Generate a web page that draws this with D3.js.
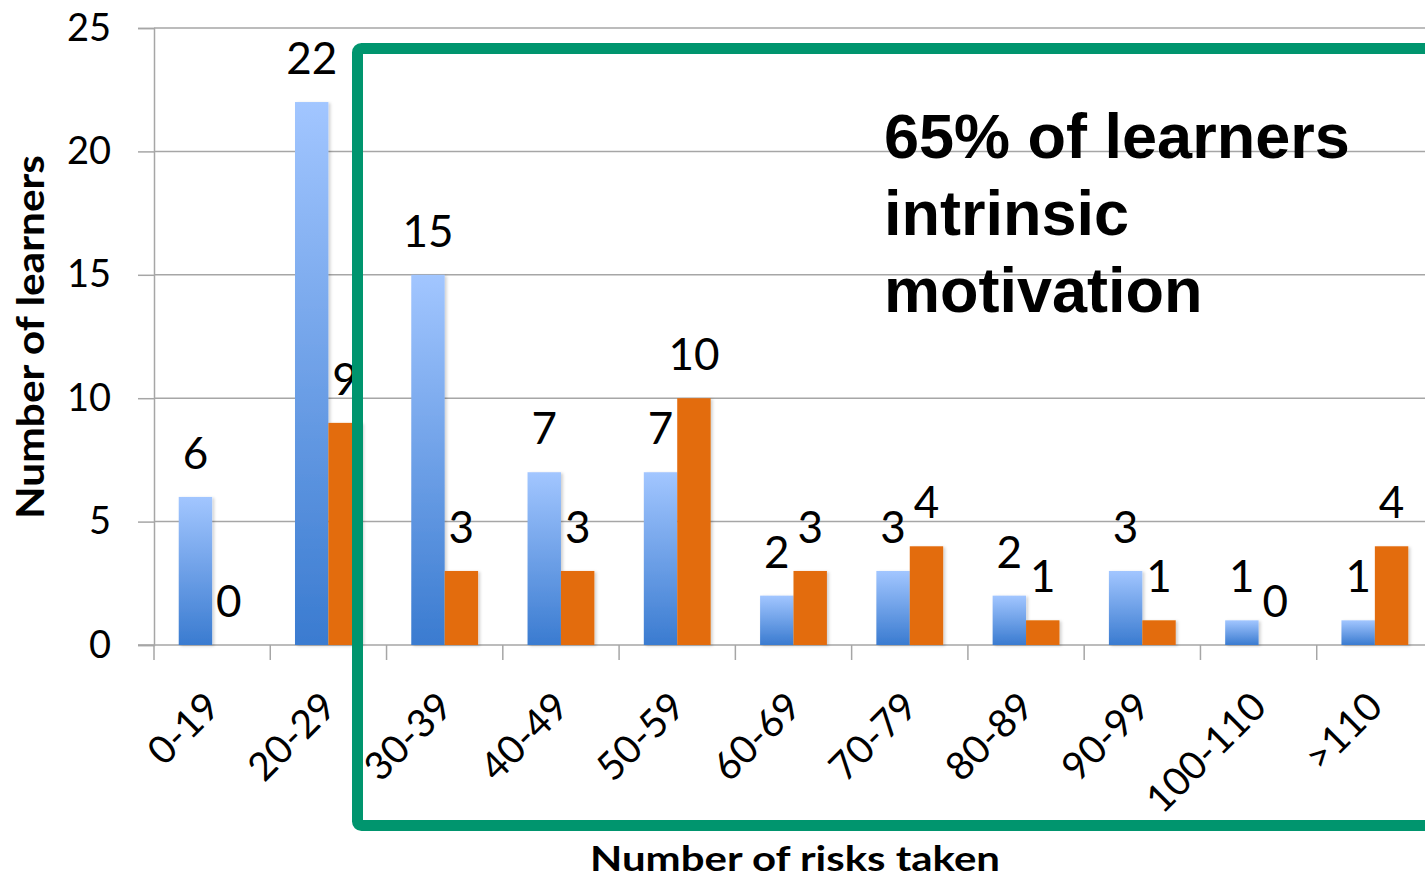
<!DOCTYPE html>
<html>
<head>
<meta charset="utf-8">
<script src="https://cdn.jsdelivr.net/npm/d3@7"></script>
<style>
  html, body { margin: 0; padding: 0; background: #fff; }
  svg { display: block; }
</style>
</head>
<body>
<svg id="chart" width="1425" height="878"></svg>
<script>
// Risk-taking distribution: learners per band of risks taken, two groups
const categories = ["0-19", "20-29", "30-39", "40-49", "50-59", "60-69", "70-79", "80-89", "90-99", "100-110", ">110"];
const seriesNames = ["groupA", "groupB"];
const groupA = [6, 22, 15, 7, 7, 2, 3, 2, 3, 1, 1];
const groupB = [0, 9, 3, 3, 10, 3, 4, 1, 1, 0, 4];
const yTicks = [0, 5, 10, 15, 20, 25];
const calloutLines = ["65% of learners", "intrinsic", "motivation"];
const xTitle = "Number of risks taken";
const yTitle = "Number of learners";

const rows = categories.map((c, i) => ({ cat: c, groupA: groupA[i], groupB: groupB[i] }));

const svg = d3.select("#chart");
const W = 1425, H = 878;
const plot = { left: 154, right: 1433, top: 28, bottom: 645 };

const y = d3.scaleLinear().domain([0, 25]).range([plot.bottom, plot.top]);
const x0 = d3.scaleBand().domain(categories).range([plot.left, plot.right]).padding(0);
const x1 = d3.scaleBand().domain(seriesNames).range([0, x0.bandwidth()])
  .paddingInner(0).paddingOuter(0.74);

const tickFont = "Lato, 'Open Sans', sans-serif";

// gradient for the first series, shadow for all bars
const defs = svg.append("defs");
const grad = defs.append("linearGradient").attr("id", "blueGrad")
  .attr("x1", 0).attr("y1", 0).attr("x2", 0).attr("y2", 1);
grad.append("stop").attr("offset", "0%").attr("stop-color", "#a2c6ff");
grad.append("stop").attr("offset", "100%").attr("stop-color", "#3a7bd0");
const sh = defs.append("filter").attr("id", "barShadow")
  .attr("x", "-30%").attr("y", "-10%").attr("width", "160%").attr("height", "120%");
sh.append("feDropShadow").attr("dx", 2).attr("dy", 1).attr("stdDeviation", 1.5)
  .attr("flood-color", "#000").attr("flood-opacity", 0.18);

// gridlines
svg.append("g").selectAll("line").data(yTicks.filter(t => t > 0)).join("line")
  .attr("x1", plot.left).attr("x2", W)
  .attr("y1", d => y(d)).attr("y2", d => y(d))
  .attr("stroke", "#a6a6a6").attr("stroke-width", 1.5);

// y axis
const yAxis = svg.append("g").attr("transform", `translate(${plot.left},0)`)
  .call(d3.axisLeft(y).tickValues(yTicks).tickSize(16).tickPadding(27));
yAxis.select(".domain").attr("stroke", "#a6a6a6").attr("stroke-width", 1.5);
yAxis.selectAll(".tick line").attr("stroke", "#a6a6a6").attr("stroke-width", 1.5);
yAxis.selectAll(".tick text").attr("font-family", tickFont).attr("font-size", 38)
  .attr("fill", "#000");

// x axis with tick marks at band edges
const xAxisG = svg.append("g").attr("transform", `translate(0,${plot.bottom})`);
xAxisG.append("line").attr("x1", plot.left - 16).attr("x2", W)
  .attr("stroke", "#a6a6a6").attr("stroke-width", 1.5);
xAxisG.selectAll("line.edge").data(categories).join("line").attr("class", "edge")
  .attr("x1", d => x0(d)).attr("x2", d => x0(d)).attr("y1", 0).attr("y2", 15)
  .attr("stroke", "#a6a6a6").attr("stroke-width", 1.5);
xAxisG.selectAll("text").data(categories).join("text")
  .attr("transform", d => `translate(${x0(d) + x0.bandwidth() / 2 + 10},64) rotate(-45)`)
  .attr("text-anchor", "end")
  .attr("font-family", tickFont).attr("font-size", 39).attr("fill", "#000")
  .text(d => d);

// bars
const groups = svg.append("g").selectAll("g").data(rows).join("g")
  .attr("transform", d => `translate(${x0(d.cat)},0)`);
groups.selectAll("rect").data(d => seriesNames.map(k => ({ key: k, value: d[k] })).filter(e => e.value > 0))
  .join("rect")
  .attr("x", d => x1(d.key)).attr("width", x1.bandwidth())
  .attr("y", d => y(d.value)).attr("height", d => y(0) - y(d.value))
  .attr("fill", d => d.key === "groupA" ? "url(#blueGrad)" : "#e36c0a")
  .attr("filter", "url(#barShadow)");

// value labels
groups.selectAll("text").data(d => seriesNames.map(k => ({ key: k, value: d[k] })))
  .join("text")
  .attr("x", d => x1(d.key) + x1.bandwidth() / 2)
  .attr("y", d => y(d.value) - 28)
  .attr("text-anchor", "middle")
  .attr("font-family", tickFont).attr("font-size", 44).attr("fill", "#000")
  .text(d => d.value);

// axis titles
svg.append("text").attr("x", 795).attr("y", 871).attr("text-anchor", "middle")
  .attr("font-family", tickFont).attr("font-weight", 700).attr("font-size", 35)
  .attr("textLength", 410).attr("lengthAdjust", "spacingAndGlyphs")
  .attr("fill", "#000").text(xTitle);
svg.append("text").attr("transform", "translate(44,337) rotate(-90)")
  .attr("text-anchor", "middle")
  .attr("font-family", tickFont).attr("font-weight", 700).attr("font-size", 38)
  .attr("textLength", 364).attr("lengthAdjust", "spacingAndGlyphs")
  .attr("fill", "#000").text(yTitle);

// highlight frame around the upper risk bands
svg.append("rect").attr("x", 357.5).attr("y", 48.5).attr("width", 1100).attr("height", 777)
  .attr("rx", 4).attr("fill", "none").attr("stroke", "#00956e").attr("stroke-width", 11);

// callout
svg.append("text").attr("font-family", "'Liberation Sans', Arial, sans-serif")
  .attr("font-weight", 700).attr("font-size", 63).attr("fill", "#000")
  .selectAll("tspan").data(calloutLines).join("tspan")
  .attr("x", 884).attr("y", (d, i) => 158 + i * 77).text(d => d);
</script>
</body>
</html>
